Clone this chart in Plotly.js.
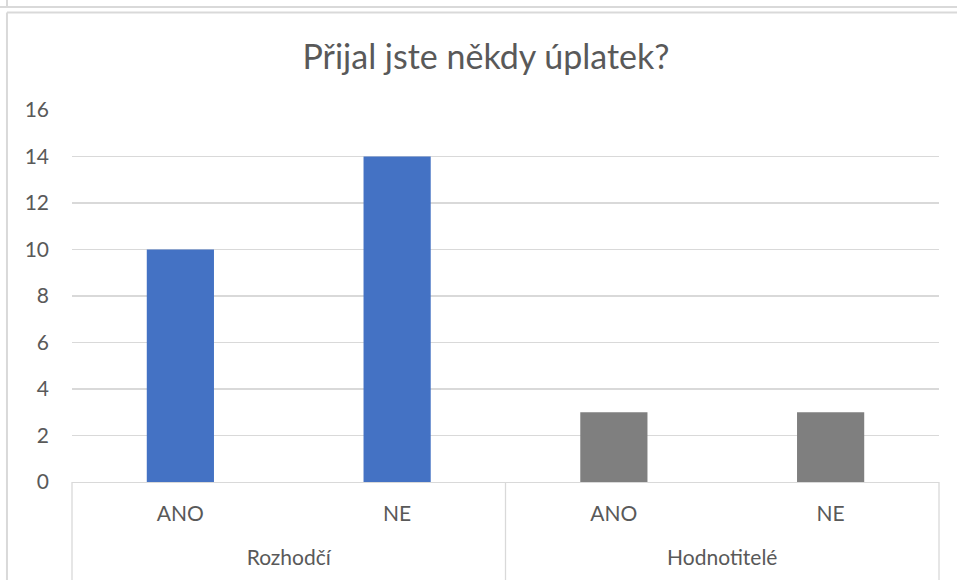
<!DOCTYPE html>
<html>
<head>
<meta charset="utf-8">
<script src="https://cdn.plot.ly/plotly-3.0.1.min.js"></script>
<style>
  html, body { margin: 0; padding: 0; background: #fff; }
  #plot { width: 957px; height: 580px; }
</style>
</head>
<body>
<div id="plot"></div>
<script>
// groups and answers of the question
let groups = ['Rozhodčí', 'Rozhodčí', 'Hodnotitelé', 'Hodnotitelé'];
let answers = ['ANO', 'NE', 'ANO', 'NE'];
let counts = [10, 14, 3, 3];
let barColors = ['#4472C4', '#4472C4', '#7F7F7F', '#7F7F7F'];
let yTicks = [0, 2, 4, 6, 8, 10, 12, 14, 16];

let grey = '#D9D9D9';
let textColor = '#595959';
let font = 'Lato, "Open Sans", sans-serif';

// bar slots and the centre of every group
let slots = answers.map((a, i) => i);
let groupNames = groups.filter((g, i) => groups.indexOf(g) === i);
let groupCenters = groupNames.map(g => {
    let idx = slots.filter(i => groups[i] === g);
    return idx.reduce((s, v) => s + v, 0) / idx.length;
});
let xRange = [-0.5, slots.length - 0.5];

let bars = {
    type: 'bar',
    x: slots,
    y: counts,
    width: 0.31,
    marker: { color: barColors },
    customdata: groups,
    hovertemplate: '%{customdata}, %{y}<extra></extra>'
};

// empty trace so the group axis gets drawn
let groupAxisHolder = {
    type: 'scatter',
    mode: 'markers',
    xaxis: 'x2',
    x: groupCenters,
    y: groupCenters.map(() => null),
    hoverinfo: 'skip'
};

// border lines of the sheet around the chart (paper units)
let bottomY = -0.27;
let shapes = [
    { type: 'line', xref: 'paper', yref: 'paper', x0: -0.1, x1: 1.1, y0: 1.277, y1: 1.277, line: { color: grey, width: 2 } },
    { type: 'line', xref: 'paper', yref: 'paper', x0: -0.075, x1: -0.075, y0: 1.277, y1: 1.32, line: { color: grey, width: 2 } },
    { type: 'line', xref: 'paper', yref: 'paper', x0: -0.075, x1: 1.1, y0: 1.262, y1: 1.262, line: { color: grey, width: 2 } },
    { type: 'line', xref: 'paper', yref: 'paper', x0: -0.075, x1: -0.075, y0: 1.262, y1: bottomY, line: { color: grey, width: 2 } },
    // category dividers
    { type: 'line', xref: 'paper', yref: 'paper', x0: 0, x1: 0, y0: 0, y1: bottomY, line: { color: grey, width: 1.3 } },
    { type: 'line', xref: 'paper', yref: 'paper', x0: 0.5, x1: 0.5, y0: 0, y1: bottomY, line: { color: grey, width: 1.3 } },
    { type: 'line', xref: 'paper', yref: 'paper', x0: 1, x1: 1, y0: 0, y1: bottomY, line: { color: grey, width: 1.3 } }
];

let layout = {
    width: 957,
    height: 580,
    margin: { l: 72, r: 18, t: 110, b: 98 },
    paper_bgcolor: '#fff',
    plot_bgcolor: '#fff',
    showlegend: false,
    font: { family: font, color: textColor, size: 21 },
    title: {
        text: 'Přijal jste někdy úplatek?',
        font: { family: font, size: 34, color: textColor },
        x: 0.4775,
        xref: 'paper',
        xanchor: 'center',
        y: 1 - 57 / 580,
        yanchor: 'middle'
    },
    xaxis: {
        range: xRange,
        tickvals: slots,
        ticktext: answers,
        showline: true,
        linecolor: grey,
        linewidth: 1.3,
        showgrid: false,
        zeroline: false,
        ticks: '',
        ticklabelstandoff: 12,
        tickfont: { family: font, size: 21, color: textColor }
    },
    xaxis2: {
        overlaying: 'x',
        anchor: 'y',
        side: 'bottom',
        range: xRange,
        tickvals: groupCenters,
        ticktext: groupNames,
        showline: false,
        showgrid: false,
        zeroline: false,
        ticks: '',
        ticklabelstandoff: 61,
        tickfont: { family: font, size: 21, color: textColor }
    },
    yaxis: {
        range: [0, 16],
        tickvals: yTicks,
        showline: false,
        zeroline: false,
        gridcolor: grey,
        gridwidth: 1.3,
        ticklabelstandoff: 22,
        tickfont: { family: font, size: 21, color: textColor }
    },
    shapes: shapes
};

Plotly.newPlot(document.getElementById('plot'), [bars, groupAxisHolder], layout, { displayModeBar: false, staticPlot: true });
</script>
</body>
</html>
